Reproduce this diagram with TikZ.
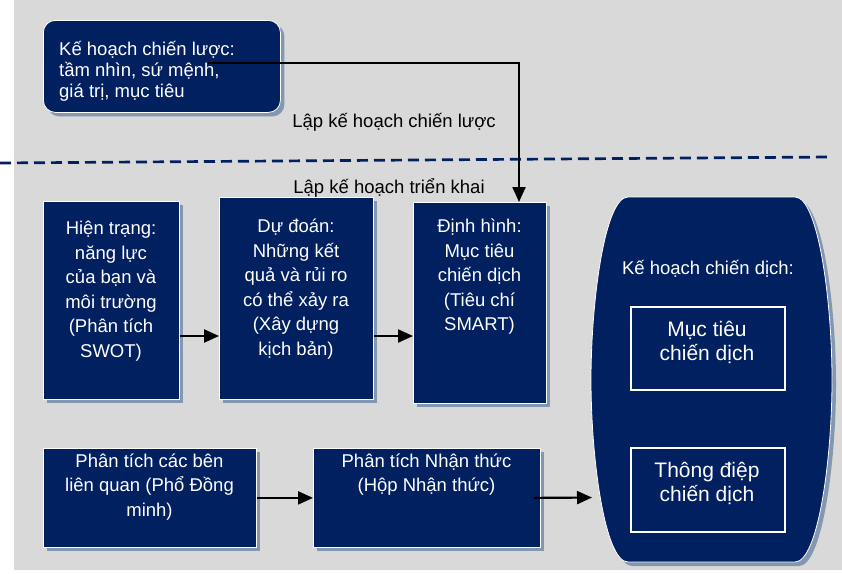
\documentclass[tikz,border=0pt]{standalone}
\usepackage{fontspec}
\setmainfont{Liberation Sans}
\usetikzlibrary{arrows.meta,shadows,calc}
\definecolor{navy}{RGB}{0,32,96}
\definecolor{bggray}{RGB}{217,217,217}
\definecolor{shadowc}{RGB}{132,151,176}
\newcommand{\fsa}{\fontsize{18.5}{24.5}\selectfont}
\newcommand{\fsb}{\fontsize{18.5}{21}\selectfont}
\newcommand{\fsc}{\fontsize{21}{24}\selectfont}
\tikzset{
  shd/.style={drop shadow={shadow xshift=4pt, shadow yshift=-4pt, fill=shadowc, opacity=1}},
  box/.style={draw=white, line width=0.8pt, fill=navy, inner sep=0pt, anchor=north west, shd},
  txt/.style={text=white, inner sep=0pt, align=center, font=\fsa},
  lbl/.style={text=black, inner sep=0pt, font=\fsa},
  arr/.style={draw=black, line width=2.2pt, -{Triangle[length=15pt,width=13pt]}},
  dashline/.style={draw=navy, line width=2.7pt, dash pattern=on 11pt off 6pt},
  inbox/.style={draw=white, line width=1.6pt, inner sep=0pt, anchor=north west},
}
\begin{document}
\begin{tikzpicture}[x=1pt,y=-1pt]
\useasboundingbox (0,0) rectangle (842,573);
\fill[bggray] (14,0) rectangle (842,570);

% top strategic box
\node[box, rounded corners=12pt, minimum width=237pt, minimum height=92pt] (T) at (43,20) {};
\node[txt, align=left, font=\fsb, anchor=north west] (Tt) at (59,40.5)
  {\strut Kế hoạch chiến lược:\\tầm nhìn, sứ mệnh,\\giá trị, mục tiêu};

% dashed separator
\coordinate (dl) at (0,163);
\coordinate (dr) at (830,157);
\draw[dashline] (dl) -- (dr);

\node[lbl] (L1) at (394,122) {Lập kế hoạch chiến lược};
\node[lbl] (L2) at (389,188) {Lập kế hoạch triển khai};

% row 1
\node[box, minimum width=136pt, minimum height=198pt] (A) at (43,201) {};
\node[txt, anchor=north] (At) at (111,217.3)
  {\strut Hiện trạng:\\năng lực\\của bạn và\\môi trường\\(Phân tích\\SWOT)};
\node[box, minimum width=154pt, minimum height=202pt] (B) at (219,197) {};
\node[txt, anchor=north] (Bt) at (296,215.3)
  {\strut Dự đoán:\\Những kết\\quả và rủi ro\\có thể xảy ra\\(Xây dựng\\kịch bản)};
\node[box, minimum width=133pt, minimum height=201pt] (C) at (413,202) {};
\node[txt, anchor=north] (Ct) at (479.5,215.3)
  {\strut Định hình:\\Mục tiêu\\chiến dịch\\(Tiêu chí\\SMART)};

% row 2
\node[box, minimum width=213pt, minimum height=99pt] (D) at (43,448) {};
\node[txt, anchor=north] (Dt) at (149.5,450)
  {\strut Phân tích các bên\\liên quan (Phổ Đồng\\minh)};
\node[box, minimum width=227pt, minimum height=99pt] (E) at (313,448) {};
\node[txt, anchor=north] (Et) at (426.5,450)
  {\strut Phân tích Nhận thức\\(Hộp Nhận thức)};

% campaign plan barrel
\path[fill=navy, draw=white, line width=0.8pt, shd]
  (628,197) -- (795,197) .. controls (818,197) and (832,300) .. (832,380)
  .. controls (832,460) and (818,562) .. (795,562) -- (628,562)
  .. controls (605,562) and (591,460) .. (591,380)
  .. controls (591,300) and (605,197) .. (628,197) -- cycle;
\node[txt] (Pt) at (708,269) {Kế hoạch chiến dịch:};
\node[inbox, minimum width=154pt, minimum height=83pt] (M1) at (630,306) {};
\node[txt, font=\fsc] (M1t) at (707,342) {Mục tiêu\\chiến dịch};
\node[inbox, minimum width=154pt, minimum height=84pt] (M2) at (630,447) {};
\node[txt, font=\fsc] (M2t) at (707,483) {Thông điệp\\chiến dịch};

% connectors
\coordinate (s) at (208,63);
\coordinate (bend) at (519,63);
\draw[arr] (s) -- (bend) -- (bend |- C.north);
\coordinate (r1) at (0,336);
\draw[arr] (A.east |- r1) -- (B.west |- r1);
\draw[arr] (B.east |- r1) -- (C.west |- r1);
\draw[arr] (D.east) -- (E.west);
\coordinate (bigL) at (592,497.5);
\draw[arr] ([xshift=-7pt]E.east) -- (bigL);
\end{tikzpicture}
\end{document}
